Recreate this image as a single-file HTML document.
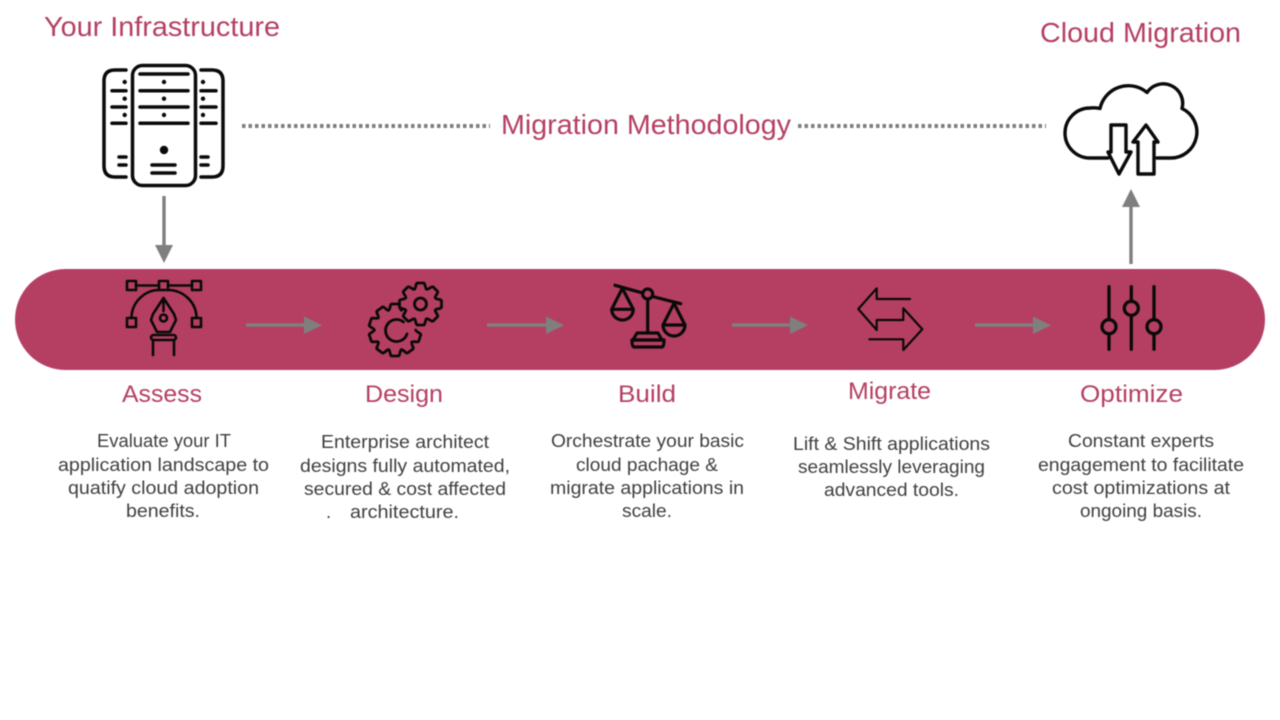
<!DOCTYPE html>
<html><head><meta charset="utf-8"><style>
html,body{margin:0;padding:0;background:#fff;width:1280px;height:720px;overflow:hidden}
svg{display:block;filter:blur(.45px)}
text{font-family:"Liberation Sans",sans-serif}
.t{fill:#b53f62;font-size:28px}
.h{fill:#b53f62;font-size:24px}
.b{fill:#404040;font-size:18.8px}
.k{fill:none;stroke:#0a0a0a;stroke-width:3.2;stroke-linecap:round;stroke-linejoin:round}
.a{stroke:#7f7f7f;stroke-width:3.4;fill:none}
.p{fill:#7f7f7f}
</style></head><body>
<svg width="1280" height="720" viewBox="0 0 1280 720" xmlns="http://www.w3.org/2000/svg">
<defs>
<path id="ts" d="M-6.100 -14.800C-4.500 -15.500 -5 -21 -3 -21H3C5 -21 4.500 -15.500 6.100 -14.800"/>
<path id="tb" d="M-6.400 -19.700C-4.600 -20.500 -5.200 -26 -3.200 -26H3.200C5.200 -26 4.600 -20.500 6.400 -19.700"/>
</defs>
<rect x="15" y="269" width="1250" height="101" rx="50.5" fill="#b53f62"/>

<text class="t" x="44" y="36" textLength="236" lengthAdjust="spacingAndGlyphs">Your Infrastructure</text>
<text class="t" x="1040" y="42" textLength="201" lengthAdjust="spacingAndGlyphs">Cloud Migration</text>
<text class="t" x="501" y="134" textLength="290" lengthAdjust="spacingAndGlyphs">Migration Methodology</text>

<g stroke="#7f7f7f" stroke-width="4" stroke-dasharray="3.5 3" fill="none">
<path d="M242 126H490"/><path d="M798 126H1046"/>
</g>

<!-- server -->
<g class="k" style="stroke-width:3.5">
<rect x="132.500" y="65.500" width="63" height="120" rx="10"/>
<path d="M126 70H115Q104 70 104 81V166Q104 177 115 177H126"/>
<path d="M201 70H212Q223 70 223 81V166Q223 177 212 177H201"/>
<path d="M140 74H188M140 90.700H188M140 107H188M140 123.300H188M152 165H175M152 173H175"/>
<path d="M112 90.700H126M112 107H126M112 123.300H126M119 157H126M119 165H126"/>
<path d="M201 90.700H216M201 107H216M201 123.300H216M201 157H208M201 165H208"/>
</g>
<g fill="#0a0a0a">
<circle cx="164" cy="82" r="2.200"/><circle cx="164" cy="98.700" r="2.200"/><circle cx="164" cy="115" r="2.200"/><circle cx="164" cy="150" r="4.200"/>
<circle cx="124.700" cy="82" r="2.200"/><circle cx="124.700" cy="98.700" r="2.200"/><circle cx="124.700" cy="115" r="2.200"/>
<circle cx="203" cy="82" r="2.200"/><circle cx="203" cy="98.700" r="2.200"/><circle cx="203" cy="115" r="2.200"/>
</g>

<!-- cloud -->
<g class="k" style="stroke-width:3.4">
<path d="M1108 158H1090A25 25 0 0 1 1090 108Q1095 107.500 1100 108.500A29 29 0 0 1 1147 92.500A19.500 19.500 0 0 1 1182 108.500A26 26 0 0 1 1171 158H1157"/>
<path d="M1111 125H1126V152H1131L1119 174L1108 152H1111Z" fill="#fff"/>
<path d="M1146 125L1133 142H1138V174H1154V142H1158Z" fill="#fff"/>
</g>

<!-- connectors -->
<path class="a" d="M164 196V246"/><path class="p" d="M155 245H173L164 263Z"/>
<path class="a" d="M1131 264V206"/><path class="p" d="M1122 207H1140L1131 189Z"/>
<path class="a" d="M246 325H306"/><path class="p" d="M304 316.500V334L322 325.300Z"/>
<path class="a" d="M487 325H548"/><path class="p" d="M546 316.500V334L564 325.300Z"/>
<path class="a" d="M732 325H792"/><path class="p" d="M790 316.500V334L808 325.300Z"/>
<path class="a" d="M975 325H1035"/><path class="p" d="M1033 316.500V334L1051 325.300Z"/>

<!-- pen tool -->
<g class="k" style="stroke-width:2.600">
<rect x="127" y="281" width="9" height="9"/><rect x="159" y="281" width="9" height="9"/><rect x="192" y="281" width="9" height="9"/>
<rect x="127" y="318" width="9" height="9"/><rect x="192" y="318" width="9" height="9"/>
<path d="M136 285.500H159M168 285.500H192"/>
<path d="M131.500 318C131.500 302 145 290 159 290M196.500 318C196.500 302 183 290 168 290"/>
<path d="M163.500 298L153 314L151 320L157 332H170L176 320L174 314Z"/>
<path d="M163.500 298V311"/>
<circle cx="163.500" cy="318" r="3.500"/>
<rect x="151" y="335" width="25" height="5" rx="2.500"/>
<path d="M153 340V355M174 340V355"/>
</g>

<!-- gears -->
<g class="k" style="stroke-width:2.800">
<g transform="translate(395 330)">
<use href="#tb" transform="rotate(108)"/><use href="#tb" transform="rotate(144)"/><use href="#tb" transform="rotate(180)"/>
<use href="#tb" transform="rotate(216)"/><use href="#tb" transform="rotate(252)"/><use href="#tb" transform="rotate(288)"/>
<use href="#tb" transform="rotate(324)"/><use href="#tb"/>
</g>
<path d="M403.500 322A11 11 0 1 0 407 334"/>
<g transform="translate(420.500 304)">
<use href="#ts"/><use href="#ts" transform="rotate(45)"/><use href="#ts" transform="rotate(90)"/><use href="#ts" transform="rotate(135)"/>
<use href="#ts" transform="rotate(180)"/><use href="#ts" transform="rotate(225)"/><use href="#ts" transform="rotate(270)"/><use href="#ts" transform="rotate(315)"/>
</g>
<circle cx="420.500" cy="304" r="6"/>
</g>

<!-- scale -->
<g class="k">
<path d="M615 285.300L642.800 293M652.500 296.500L680.700 303.700"/>
<circle cx="647.700" cy="294" r="5"/>
<path d="M647.700 299V333"/>
<path d="M637 333H658L662 340H633Z"/>
<path d="M633 340H664Q664 347 662 347H634Q632 347 632 340Z"/>
<path d="M622.300 288.300L611.700 309.300H633.300ZM611.700 309.300A10.800 10.800 0 0 0 633.300 309.300"/>
<path d="M674 303.300L663 325H685ZM663 325A11 11 0 0 0 685 325"/>
</g>

<!-- swap arrows -->
<path class="k" style="stroke-width:2.200" d="M910 299H876.700V288.300L858.300 309L876.700 330V320H903.300V308.300L922.300 329.300L903.300 350V339.300H869.300"/>

<!-- sliders -->
<g class="k" style="stroke-width:3.300">
<path d="M1109 286.700V319.500M1109 334V349.300M1131.300 286.700V301M1131.300 315.500V349.300M1154 286.700V319.500M1154 334V349.300"/>
<circle cx="1109" cy="326.700" r="7"/><circle cx="1131.300" cy="308.300" r="7"/><circle cx="1154" cy="326.700" r="7"/>
</g>

<!-- headings -->
<text class="h" x="122" y="402" textLength="80" lengthAdjust="spacingAndGlyphs">Assess</text>
<text class="h" x="365" y="402" textLength="78" lengthAdjust="spacingAndGlyphs">Design</text>
<text class="h" x="618" y="402" textLength="58" lengthAdjust="spacingAndGlyphs">Build</text>
<text class="h" x="848" y="399" textLength="83" lengthAdjust="spacingAndGlyphs">Migrate</text>
<text class="h" x="1080" y="402" textLength="103" lengthAdjust="spacingAndGlyphs">Optimize</text>

<!-- body -->
<text class="b" x="97" y="447" textLength="134" lengthAdjust="spacingAndGlyphs">Evaluate your IT</text>
<text class="b" x="58" y="471" textLength="211" lengthAdjust="spacingAndGlyphs">application landscape to</text>
<text class="b" x="68" y="494" textLength="191" lengthAdjust="spacingAndGlyphs">quatify cloud adoption</text>
<text class="b" x="126" y="517" textLength="74" lengthAdjust="spacingAndGlyphs">benefits.</text>

<text class="b" x="321" y="448" textLength="168" lengthAdjust="spacingAndGlyphs">Enterprise architect</text>
<text class="b" x="300" y="472" textLength="210" lengthAdjust="spacingAndGlyphs">designs fully automated,</text>
<text class="b" x="304" y="495" textLength="202" lengthAdjust="spacingAndGlyphs">secured &amp; cost affected</text>
<text class="b" x="326" y="518">.</text>
<text class="b" x="350" y="518" textLength="109" lengthAdjust="spacingAndGlyphs">architecture.</text>

<text class="b" x="551" y="447" textLength="193" lengthAdjust="spacingAndGlyphs">Orchestrate your basic</text>
<text class="b" x="576" y="471" textLength="142" lengthAdjust="spacingAndGlyphs">cloud pachage &amp;</text>
<text class="b" x="550" y="494" textLength="194" lengthAdjust="spacingAndGlyphs">migrate applications in</text>
<text class="b" x="622" y="517" textLength="50" lengthAdjust="spacingAndGlyphs">scale.</text>

<text class="b" x="793" y="450" textLength="197" lengthAdjust="spacingAndGlyphs">Lift &amp; Shift applications</text>
<text class="b" x="798" y="473" textLength="187" lengthAdjust="spacingAndGlyphs">seamlessly leveraging</text>
<text class="b" x="824" y="496" textLength="135" lengthAdjust="spacingAndGlyphs">advanced tools.</text>

<text class="b" x="1068" y="447" textLength="146" lengthAdjust="spacingAndGlyphs">Constant experts</text>
<text class="b" x="1038" y="471" textLength="206" lengthAdjust="spacingAndGlyphs">engagement to facilitate</text>
<text class="b" x="1052" y="494" textLength="178" lengthAdjust="spacingAndGlyphs">cost optimizations at</text>
<text class="b" x="1080" y="517" textLength="122" lengthAdjust="spacingAndGlyphs">ongoing basis.</text>
</svg>
</body></html>
